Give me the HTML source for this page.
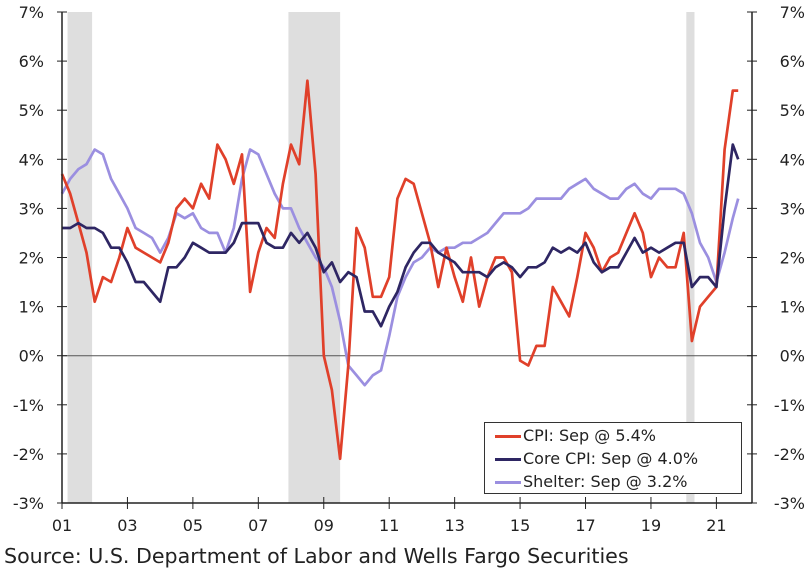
<!DOCTYPE html>
<html><head><meta charset="utf-8"><style>
body{margin:0;background:#fff;width:806px;height:577px;overflow:hidden;font-family:"Liberation Sans","DejaVu Sans",sans-serif}
svg text{font-family:"DejaVu Sans","Liberation Sans",sans-serif;fill:#222}
</style></head><body>
<svg id="chart" width="806" height="577"></svg>
<script>
const startYear = 2001;
// quarterly values (Jan, Apr, Jul, Oct) from Jan 2001, final point Sep 2021
const cpi = [3.7,3.3,2.7,2.1, 1.1,1.6,1.5,2.0, 2.6,2.2,2.1,2.0, 1.9,2.3,3.0,3.2, 3.0,3.5,3.2,4.3, 4.0,3.5,4.1,1.3, 2.1,2.6,2.4,3.5, 4.3,3.9,5.6,3.7, 0.0,-0.7,-2.1,-0.2, 2.6,2.2,1.2,1.2, 1.6,3.2,3.6,3.5, 2.9,2.3,1.4,2.2, 1.6,1.1,2.0,1.0, 1.6,2.0,2.0,1.7, -0.1,-0.2,0.2,0.2, 1.4,1.1,0.8,1.6, 2.5,2.2,1.7,2.0, 2.1,2.5,2.9,2.5, 1.6,2.0,1.8,1.8, 2.5,0.3,1.0,1.2, 1.4,4.2,5.4, 5.4];
const core = [2.6,2.6,2.7,2.6, 2.6,2.5,2.2,2.2, 1.9,1.5,1.5,1.3, 1.1,1.8,1.8,2.0, 2.3,2.2,2.1,2.1, 2.1,2.3,2.7,2.7, 2.7,2.3,2.2,2.2, 2.5,2.3,2.5,2.2, 1.7,1.9,1.5,1.7, 1.6,0.9,0.9,0.6, 1.0,1.3,1.8,2.1, 2.3,2.3,2.1,2.0, 1.9,1.7,1.7,1.7, 1.6,1.8,1.9,1.8, 1.6,1.8,1.8,1.9, 2.2,2.1,2.2,2.1, 2.3,1.9,1.7,1.8, 1.8,2.1,2.4,2.1, 2.2,2.1,2.2,2.3, 2.3,1.4,1.6,1.6, 1.4,3.0,4.3, 4.0];
const shelter = [3.3,3.6,3.8,3.9, 4.2,4.1,3.6,3.3, 3.0,2.6,2.5,2.4, 2.1,2.4,2.9,2.8, 2.9,2.6,2.5,2.5, 2.1,2.6,3.6,4.2, 4.1,3.7,3.3,3.0, 3.0,2.6,2.3,2.0, 1.8,1.4,0.7,-0.2, -0.4,-0.6,-0.4,-0.3, 0.4,1.2,1.6,1.9, 2.0,2.2,2.1,2.2, 2.2,2.3,2.3,2.4, 2.5,2.7,2.9,2.9, 2.9,3.0,3.2,3.2, 3.2,3.2,3.4,3.5, 3.6,3.4,3.3,3.2, 3.2,3.4,3.5,3.3, 3.2,3.4,3.4,3.4, 3.3,2.9,2.3,2.0, 1.5,2.1,2.8, 3.2];
const yTicks = [-3,-2,-1,0,1,2,3,4,5,6,7];
const xLabels = ["01","03","05","07","09","11","13","15","17","19","21"];
const recessions = [[2001.17,2001.92],[2007.92,2009.5],[2020.08,2020.33]];

const L=62,R=752,T=12,B=503;
const x=y=>L+(y-startYear)*32.72;
const yv=v=>B-(v+3)/10*(B-T);
const svg=document.getElementById('chart');
const NS='http://www.w3.org/2000/svg';
function mk(t,a){const e=document.createElementNS(NS,t);for(const k in a)e.setAttribute(k,a[k]);svg.appendChild(e);return e;}
recessions.forEach(r=>{const e=mk('rect',{x:x(r[0]),y:T,width:x(r[1])-x(r[0]),height:B-T,fill:'#dedede'});

});
let z=mk('line',{x1:L,x2:R,y1:yv(0),y2:yv(0),stroke:'#555','stroke-width':1});


function tOf(i,n){return i===n-1?2021+8/12:startYear+i*0.25;}
function series(d,c,name){const p=d.map((v,i)=>(i?'L':'M')+x(tOf(i,d.length)).toFixed(1)+','+yv(v).toFixed(1)).join('');
const e=mk('path',{d:p,fill:'none',stroke:c,'stroke-width':2.7,'stroke-linejoin':'round'});

}
series(shelter,'#9b8fe0','shelter-line');
series(cpi,'#e0402a','cpi-line');
series(core,'#2e2663','core-cpi-line');
mk('line',{x1:L,x2:L,y1:T,y2:B,stroke:'#222','stroke-width':1.5});
mk('line',{x1:R,x2:R,y1:T,y2:B,stroke:'#222','stroke-width':1.5});
mk('line',{x1:L,x2:R,y1:B,y2:B,stroke:'#222','stroke-width':1.5});
yTicks.forEach(v=>{const yy=yv(v);
mk('line',{x1:L-5,x2:L+5,y1:yy,y2:yy,stroke:'#222'});
mk('line',{x1:R-5,x2:R+5,y1:yy,y2:yy,stroke:'#222'});
let a=mk('text',{x:44,y:yy+6,'text-anchor':'end','font-size':16});a.textContent=v+'%';


let b=mk('text',{x:805,y:yy+6,'text-anchor':'end','font-size':16});b.textContent=v+'%';

});
xLabels.forEach((l,i)=>{const xx=x(startYear+2*i);
mk('line',{x1:xx,x2:xx,y1:B-6,y2:B+6,stroke:'#222'});
let t=mk('text',{x:xx,y:531,'text-anchor':'middle','font-size':16});t.textContent=l;

});
</script>
<div style="position:absolute;left:484px;top:422px;width:258px;height:72px;border:1px solid #333;background:#fff;font-family:'DejaVu Sans','Liberation Sans',sans-serif;font-size:16px;color:#222;line-height:23px;padding-top:1px;box-sizing:border-box">
<div><span style="display:inline-block;width:26px;height:3px;background:#e0402a;vertical-align:middle;margin:0 2px 0 10px"></span>CPI: Sep @ 5.4%</div>
<div><span style="display:inline-block;width:26px;height:3px;background:#2e2663;vertical-align:middle;margin:0 2px 0 10px"></span>Core CPI: Sep @ 4.0%</div>
<div><span style="display:inline-block;width:26px;height:3px;background:#9b8fe0;vertical-align:middle;margin:0 2px 0 10px"></span>Shelter: Sep @ 3.2%</div>
</div>
<div style="position:absolute;left:4px;top:544px;font-family:'DejaVu Sans','Liberation Sans',sans-serif;font-size:20.6px;color:#222">Source: U.S. Department of Labor and Wells Fargo Securities</div>
</body></html>
